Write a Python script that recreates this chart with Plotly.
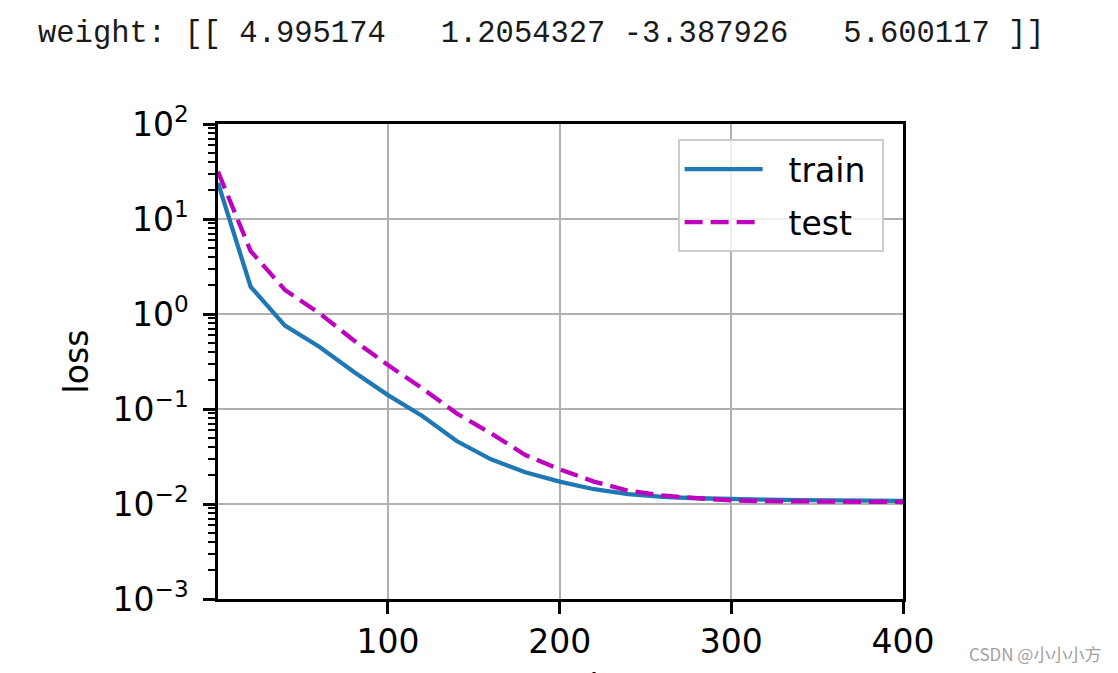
import plotly.graph_objects as go

epochs = [1, 20, 40, 60, 80, 100, 120, 140, 160, 180, 200, 220, 240, 260, 280, 300, 320, 340, 360, 380, 400]
train_loss = [24.0, 1.94, 0.753, 0.453, 0.247, 0.140, 0.0844, 0.046, 0.0295, 0.0216, 0.0172, 0.0143, 0.0127,
              0.0119, 0.0115, 0.0112, 0.0111, 0.0110, 0.0109, 0.0108, 0.0108]
test_loss = [31.5, 4.6, 1.79, 1.02, 0.53, 0.29, 0.165, 0.090, 0.0555, 0.0328, 0.0232, 0.0172, 0.0138,
             0.0123, 0.0115, 0.0109, 0.0107, 0.0106, 0.01055, 0.0105, 0.0105]
x_ticks = [100, 200, 300, 400]
y_tick_vals = [1e-3, 1e-2, 1e-1, 1e0, 1e1, 1e2]
y_tick_text = ["10<sup>−3</sup>", "10<sup>−2</sup>", "10<sup>−1</sup>", "10<sup>0</sup>", "10<sup>1</sup>", "10<sup>2</sup>"]
weight_text = "weight: [[ 4.995174   1.2054327 -3.387926   5.600117 ]]"
watermark = "CSDN @小小小方"

FONT = "DejaVu Sans"
NB = "\u00a0"

fig = go.Figure()
fig.add_trace(go.Scatter(x=epochs, y=train_loss, mode="lines", name=NB + NB + "train" + NB, legendgroup="train",
                         line=dict(color="#1f77b4", width=4.3)))
fig.add_trace(go.Scatter(x=epochs, y=test_loss, mode="lines", name=NB + NB + "test", legendgroup="test",
                         line=dict(color="#bf00bf", width=4.3, dash="18px,8px")))

fig.update_layout(
    width=1118, height=673,
    margin=dict(l=218, r=215, t=124, b=74, autoexpand=False),
    paper_bgcolor="white", plot_bgcolor="white",
    font=dict(family=FONT, size=33, color="black"),
    showlegend=True,
    legend=dict(x=0.671, y=0.968, xanchor="left", yanchor="top",
                bgcolor="rgba(255,255,255,0.8)", bordercolor="#cccccc", borderwidth=2,
                traceorder="grouped", tracegroupgap=7,
                font=dict(family=FONT, size=33, color="black"), itemwidth=78),
    title=dict(text=weight_text.replace(" ", NB), xref="container", yref="container",
               x=38 / 1118, xanchor="left", y=1 - 31 / 673, yanchor="middle",
               font=dict(family="Liberation Mono", size=30.5, color="#1a1a1a")),
)

fig.update_xaxes(
    type="linear", range=[1, 400], tickmode="array", tickvals=x_ticks,
    ticks="outside", ticklen=12, tickwidth=2.5, tickcolor="black",
    showline=True, linecolor="black", linewidth=2.5, mirror=True,
    showgrid=True, gridcolor="#b0b0b0", gridwidth=2.2, zeroline=False,
    tickfont=dict(family=FONT, size=33, color="black"),
)
fig.update_yaxes(
    type="log", range=[-3, 2], tickmode="array", tickvals=y_tick_vals, ticktext=y_tick_text,
    ticks="outside", ticklen=12, tickwidth=2.5, tickcolor="black", ticklabelstandoff=8,
    minor=dict(ticks="outside", ticklen=7, tickwidth=2, tickcolor="black", dtick="D1", showgrid=False),
    showline=True, linecolor="black", linewidth=2.5, mirror=True,
    showgrid=True, gridcolor="#b0b0b0", gridwidth=2.2, zeroline=False,
    tickfont=dict(family=FONT, size=33, color="black"),
    title=dict(text="loss", standoff=15, font=dict(family=FONT, size=33, color="black")),
)

# x-axis title: cut off by the bottom edge of the picture, as in the reference
fig.add_annotation(text="epoch", xref="paper", yref="paper", x=0.5, y=0, xanchor="center", yanchor="top",
                   yshift=-66, showarrow=False, font=dict(family=FONT, size=33, color="black"))

fig.add_annotation(text=watermark, xref="paper", yref="paper", x=1, y=0, xanchor="left", yanchor="middle",
                   xshift=64, yshift=-54, showarrow=False,
                   font=dict(family="Noto Sans CJK SC", size=17, color="#a0a0a0"))

fig.write_html("out.html")
